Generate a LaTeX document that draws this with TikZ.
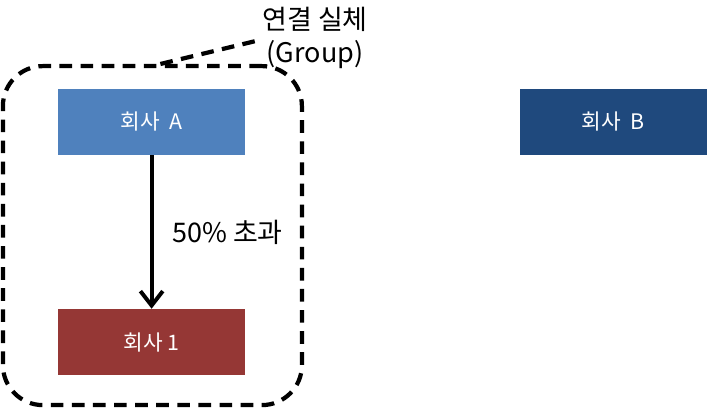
\documentclass[tikz,border=0pt]{standalone}
\usepackage{fontspec}
\setmainfont{Noto Sans CJK KR}
\usetikzlibrary{arrows.meta, positioning, calc}
\definecolor{firmA}{HTML}{4F81BD}
\definecolor{firmB}{HTML}{1F497D}
\definecolor{firmOne}{HTML}{953735}

\begin{document}
\begin{tikzpicture}[
    >=Stealth,
    firm/.style={fill, text=white, minimum width=4.675cm, minimum height=1.65cm,
                 inner sep=0pt, font=\fontsize{15.2}{17}\selectfont},
    lab/.style={font=\fontsize{19.2}{23.5}\selectfont, align=center},
    grp/.style={draw, dashed, line width=3pt, rounded corners=1cm,
                dash pattern=on 9pt off 6pt, minimum width=7.475cm,
                minimum height=8.475cm},
    own/.style={-{Straight Barb[length=3.6mm, width=5.6mm, line width=2.8pt]},
                line width=2.8pt},
]
\useasboundingbox (0,0) rectangle (17.7,-10.2);

\node[firm, fill=firmA] (A) at (3.79,-3.05) {회사~~A};
\node[firm, fill=firmB] (B) at (15.325,-3.05) {회사~~B};
\node[firm, fill=firmOne] (S) at (3.79,-8.55) {회사 1};

\node[grp] (G) at (3.81,-5.89) {};
\coordinate (tip) at (6.375,-1.03);
\draw[dashed, line width=3pt, dash pattern=on 9pt off 6pt] ($(G.north)+(0.2,0)$) -- (tip);
\node[lab] (gl) at (7.875,-0.95) {연결 실체\\(Group)};

\draw[own] (A) -- (S) node[midway, right=0.35cm, lab] {50\% 초과};

\end{tikzpicture}
\end{document}
